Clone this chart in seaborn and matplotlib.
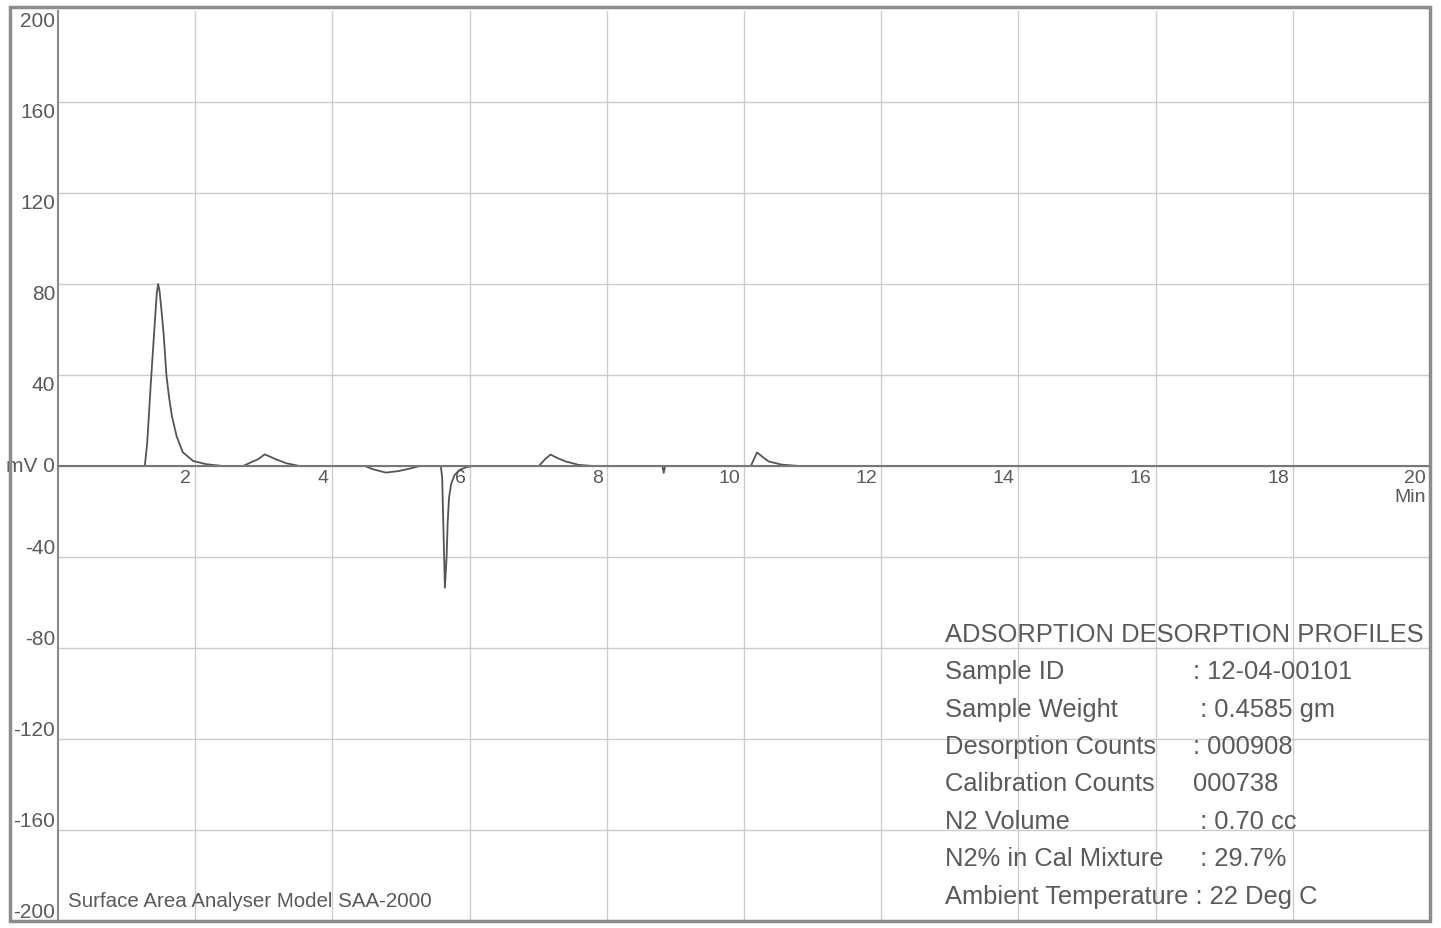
import matplotlib
matplotlib.use('Agg')
import matplotlib.pyplot as plt
import matplotlib.transforms as mtransforms
from matplotlib.patches import Rectangle
import seaborn as sns
import pandas as pd

# trace (time in min, signal in mV)
time_min = [0.0, 1.265, 1.30, 1.35, 1.40, 1.44, 1.46, 1.48, 1.51, 1.54, 1.58, 1.62,
            1.66, 1.73, 1.82, 1.97, 2.16, 2.40,
            2.70, 2.84, 2.92, 3.01, 3.10, 3.18, 3.33, 3.52,
            4.47, 4.60, 4.78, 4.97, 5.15, 5.27,
            5.58, 5.60, 5.64, 5.665, 5.68, 5.70, 5.73, 5.78, 5.85, 5.95, 6.05,
            7.01, 7.10, 7.18, 7.28, 7.40, 7.59, 7.80,
            8.81, 8.83, 8.85,
            10.10, 10.19, 10.27, 10.36, 10.55, 10.80, 20.0]
signal_mv = [0.0, 0.0, 10.0, 35.0, 58.0, 76.0, 80.0, 77.0, 68.0, 58.0, 40.0, 30.0,
             22.0, 13.0, 6.0, 2.2, 0.8, 0.0,
             0.0, 2.0, 3.0, 5.1, 4.0, 2.9, 1.2, 0.0,
             0.0, -1.5, -2.9, -2.2, -1.0, 0.0,
             0.0, -5.0, -53.5, -40.0, -25.0, -14.0, -8.0, -4.0, -1.8, -0.5, 0.0,
             0.0, 3.0, 5.0, 3.5, 2.0, 0.5, 0.0,
             0.0, -3.0, 0.0,
             0.0, 6.0, 4.0, 2.0, 0.6, 0.0, 0.0]

x_ticks = [2, 4, 6, 8, 10, 12, 14, 16, 18, 20]
y_ticks = [-200, -160, -120, -80, -40, 0, 40, 80, 120, 160, 200]

info_labels = ['Sample ID', 'Sample Weight', 'Desorption Counts', 'Calibration Counts',
               'N2 Volume', 'N2% in Cal Mixture', 'Ambient Temperature']
info_values = [': 12-04-00101', ' : 0.4585 gm', ': 000908', '000738',
               ' : 0.70 cc', ' : 29.7%', ': 22 Deg C']

df = pd.DataFrame({'Min': time_min, 'mV': signal_mv})

sns.set_style('white')
plt.rcParams['font.family'] = ['Liberation Sans', 'DejaVu Sans']
text_col = '#5a5a5a'
grid_col = '#cccccc'

fig = plt.figure(figsize=(14.41, 9.29), dpi=100)
W, H = 1441, 929
ax = fig.add_axes([58 / W, 1 - 922 / H, (1430 - 58) / W, (922 - 12) / H])

sns.lineplot(data=df, x='Min', y='mV', ax=ax, color='#555555', linewidth=1.3)

ax.set_xlim(0, 20)
ax.set_ylim(-200, 200)
ax.set_xlabel('')
ax.set_ylabel('')

ax.set_xticks(x_ticks)
ax.set_xticklabels([str(t) if t != 20 else '20\nMin' for t in x_ticks])
ax.set_yticks(y_ticks)
ax.set_yticklabels(['mV 0' if t == 0 else str(t) for t in y_ticks])
ax.tick_params(axis='both', length=0, labelcolor=text_col)
ax.tick_params(axis='x', pad=2, labelsize=14)
ax.tick_params(axis='y', pad=2, labelsize=15)

ax.grid(True, color=grid_col, linewidth=1.0)
ax.set_axisbelow(True)
# top and bottom rows coincide with the printout frame
ax.get_ygridlines()[0].set_visible(False)
ax.get_ygridlines()[-1].set_visible(False)

# zero line acts as the time axis
ax.spines['bottom'].set_position(('data', 0))
ax.spines['bottom'].set_color('#777777')
ax.spines['bottom'].set_linewidth(1.5)
ax.spines['left'].set_color('#8a8a8a')
ax.spines['left'].set_linewidth(1.5)
ax.spines['top'].set_visible(False)
ax.spines['right'].set_visible(False)

offset = mtransforms.ScaledTranslation(-4 / 100, 0, fig.dpi_scale_trans)
for lab in ax.get_xticklabels():
    lab.set_horizontalalignment('right')
    lab.set_multialignment('right')
    lab.set_transform(lab.get_transform() + offset)

for lab, t in zip(ax.get_yticklabels(), y_ticks):
    if t == 0:
        lab.set_verticalalignment('center')
    elif t > 0:
        lab.set_verticalalignment('top')
    else:
        lab.set_verticalalignment('bottom')

# outer frame of the printout
fig.patches.append(Rectangle((10 / W, 1 - 922 / H), (1430 - 10) / W, (922 - 8) / H,
                             transform=fig.transFigure, fill=False,
                             edgecolor='#8c8c8c', linewidth=2.5))

ax.text(0.0075, 0.012, 'Surface Area Analyser Model SAA-2000',
        transform=ax.transAxes, fontsize=14.8, color=text_col, ha='left', va='bottom')

# info block
fig.text(945 / W, 1 - 635 / H, 'ADSORPTION DESORPTION PROFILES', fontsize=18.4,
         color=text_col, ha='left', va='center')
for i, (lab, val) in enumerate(zip(info_labels, info_values)):
    y = 1 - (672 + i * 37.5) / H
    if lab == 'Ambient Temperature':
        fig.text(945 / W, y, lab + ' ' + val, fontsize=18.4, color=text_col,
                 ha='left', va='center')
    else:
        fig.text(945 / W, y, lab, fontsize=18.4, color=text_col, ha='left', va='center')
        fig.text(1193 / W, y, val, fontsize=18.4, color=text_col, ha='left', va='center')

fig.savefig('out.png', dpi=100, facecolor='white')
